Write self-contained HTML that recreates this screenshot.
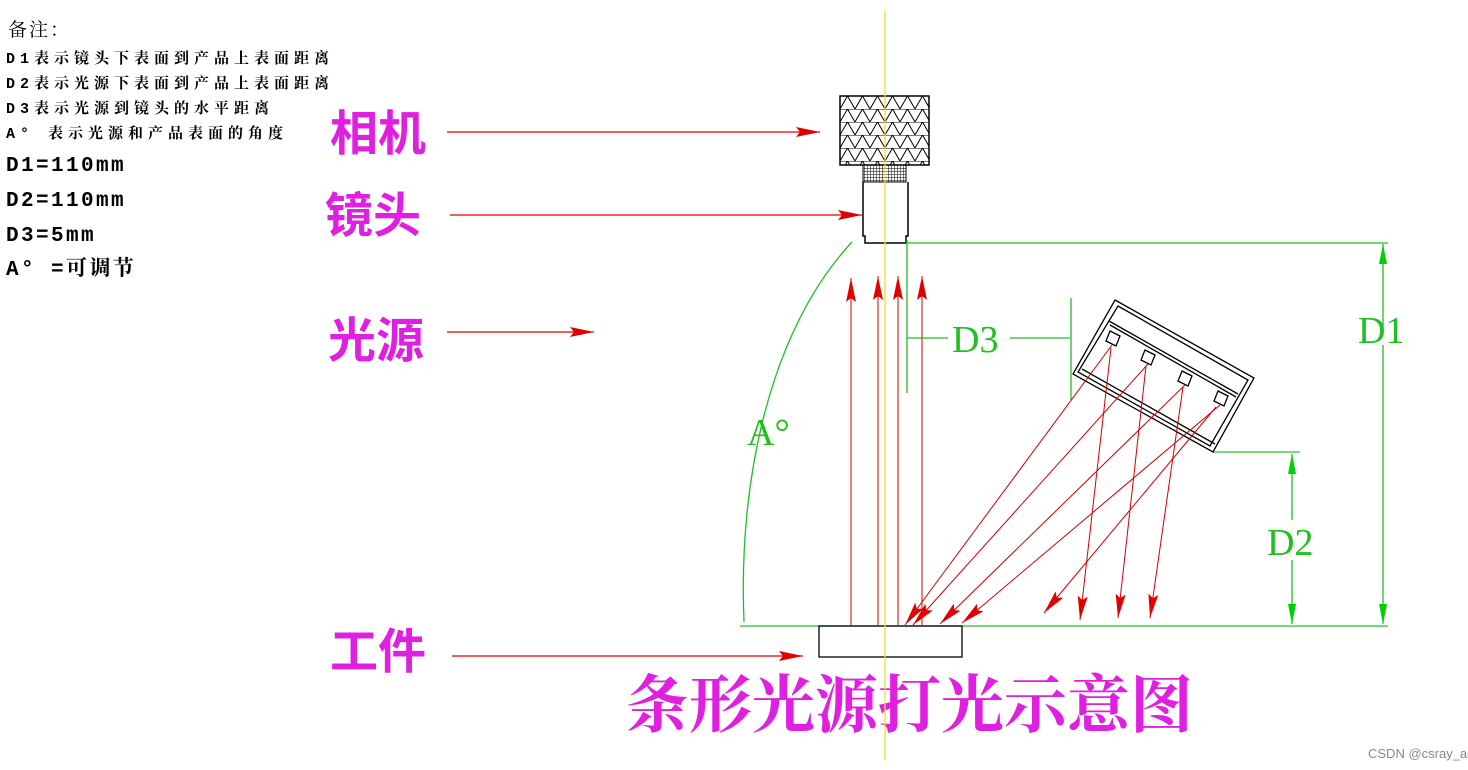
<!DOCTYPE html>
<html><head><meta charset="utf-8"><style>
body{margin:0;background:#fff}
svg{display:block}
.t{font-family:"Liberation Serif","Noto Serif CJK SC",serif}
.m{font-family:"Liberation Mono","Noto Serif CJK SC",monospace}
.s{font-family:"Liberation Sans","Noto Sans CJK SC",sans-serif}
</style></head><body>
<svg width="1468" height="770" viewBox="0 0 1468 770" xmlns="http://www.w3.org/2000/svg">
<defs>
<marker id="a" viewBox="0 0 24 10" refX="24" refY="5" markerWidth="24" markerHeight="10" markerUnits="userSpaceOnUse" orient="auto"><path d="M0,0 L24,5 L0,10 L4,5z" fill="#e00000"/></marker>
<marker id="g" viewBox="0 0 20 8" refX="20" refY="4" markerWidth="20" markerHeight="8" markerUnits="userSpaceOnUse" orient="auto"><path d="M0,0 L20,4 L0,8 z" fill="#00d000"/></marker>
<pattern id="tri" width="15" height="13" patternUnits="userSpaceOnUse" x="840" y="96"><path d="M0,13 L7.5,0 L15,13 M0,0 L15,0" stroke="#000" stroke-width="1" fill="none"/></pattern>
<pattern id="grid" width="3" height="3" patternUnits="userSpaceOnUse"><path d="M0,0 H3 M0,0 V3" stroke="#000" stroke-width="1"/></pattern>
</defs>
<!-- notes -->
<g class="m" fill="#000">
<text x="8" y="36" font-size="19" letter-spacing="2">备注：</text>
<g font-size="15" font-weight="bold" letter-spacing="5">
<text x="6" y="63">D1表示镜头下表面到产品上表面距离</text>
<text x="6" y="88">D2表示光源下表面到产品上表面距离</text>
<text x="6" y="113">D3表示光源到镜头的水平距离</text>
<text x="6" y="138">A° 表示光源和产品表面的角度</text>
</g>
<g font-size="21" font-weight="bold" letter-spacing="2.4">
<text x="6" y="171">D1=110mm</text>
<text x="6" y="206">D2=110mm</text>
<text x="6" y="241">D3=5mm</text>
<text x="6" y="275">A° =可调节</text>
</g>
</g>
<!-- left labels -->
<g class="s" fill="#e020e0" font-size="48" font-weight="bold">
<text x="330" y="150">相机</text>
<text x="325" y="232">镜头</text>
<text x="328" y="357">光源</text>
<text x="330" y="668">工件</text>
</g>
<text x="626" y="727" class="t" fill="#e020e0" font-size="63" font-weight="bold">条形光源打光示意图</text>
<g stroke="#e00000" stroke-width="1.2" fill="none">
<line x1="447" y1="132" x2="820" y2="132" marker-end="url(#a)"/>
<line x1="450" y1="215" x2="862" y2="215" marker-end="url(#a)"/>
<line x1="447" y1="332" x2="594" y2="332" marker-end="url(#a)"/>
<line x1="452" y1="656" x2="803" y2="656" marker-end="url(#a)"/>
</g>
<!-- camera -->
<rect x="840" y="96" width="89" height="69" fill="url(#tri)" stroke="#000" stroke-width="1.5"/>
<rect x="863" y="165" width="43" height="17" fill="url(#grid)" stroke="#000"/>
<path d="M863,182 V236 H865 V243 H906 V236 H908 V182" fill="none" stroke="#000" stroke-width="1.5"/>
<!-- green lines -->
<g stroke="#20c020" stroke-width="1.3" fill="none">
<line x1="906" y1="243" x2="1388" y2="243"/>
<line x1="740" y1="626" x2="1388" y2="626"/>
<line x1="907" y1="240" x2="907" y2="393"/>
<line x1="907" y1="338" x2="948" y2="338"/>
<line x1="1010" y1="338" x2="1070" y2="338"/>
<line x1="1071" y1="298" x2="1071" y2="400"/>
<line x1="1213" y1="452" x2="1300" y2="452"/>
<path d="M744,622 C738,480 770,330 852,242"/>
<line x1="1383" y1="330" x2="1383" y2="244" marker-end="url(#g)"/>
<line x1="1383" y1="345" x2="1383" y2="624" marker-end="url(#g)"/>
<line x1="1292" y1="520" x2="1292" y2="454" marker-end="url(#g)"/>
<line x1="1292" y1="560" x2="1292" y2="624" marker-end="url(#g)"/>
</g>
<g class="t" fill="#20c020" font-size="38">
<text x="952" y="352">D3</text>
<text x="1358" y="343">D1</text>
<text x="1267" y="555">D2</text>
<text x="747" y="445">A°</text>
</g>
<!-- light box -->
<g stroke="#000" stroke-width="1.3" fill="none">
<polygon points="1115,300 1254,378 1213,452 1073,374"/>
<polygon points="1118,306 1248,380 1210,446 1078,372"/>
<line x1="1109" y1="321" x2="1238" y2="394"/>
<line x1="1110" y1="325" x2="1236" y2="397"/>
<line x1="1082" y1="369" x2="1215" y2="444"/>
<path d="M1110,331 l10,5 l-4,10 l-10,-5z M1145,350 l10,5 l-4,10 l-10,-5z M1182,371 l10,5 l-4,10 l-10,-5z M1218,391 l10,5 l-4,10 l-10,-5z"/>
</g>
<!-- workpiece -->
<rect x="819" y="626" width="143" height="31" fill="none" stroke="#000" stroke-width="1.3"/>
<!-- red rays -->
<g stroke="#d00000" stroke-width="1" fill="none">
<line x1="851" y1="626" x2="851" y2="278" marker-end="url(#a)"/>
<line x1="878" y1="626" x2="878" y2="276" marker-end="url(#a)"/>
<line x1="898" y1="626" x2="898" y2="276" marker-end="url(#a)"/>
<line x1="922" y1="626" x2="922" y2="276" marker-end="url(#a)"/>
<line x1="1112" y1="345" x2="905" y2="625" marker-end="url(#a)"/>
<line x1="1148" y1="364" x2="913" y2="625" marker-end="url(#a)"/>
<line x1="1185" y1="385" x2="940" y2="624" marker-end="url(#a)"/>
<line x1="1220" y1="405" x2="962" y2="623" marker-end="url(#a)"/>
<line x1="1111" y1="348" x2="1080" y2="620" marker-end="url(#a)"/>
<line x1="1146" y1="366" x2="1118" y2="618" marker-end="url(#a)"/>
<line x1="1183" y1="387" x2="1150" y2="618" marker-end="url(#a)"/>
<line x1="1216" y1="407" x2="1044" y2="613" marker-end="url(#a)"/>
</g>
<!-- yellow center line -->
<line x1="885" y1="10" x2="885" y2="760" stroke="#f0e020" stroke-width="1.3"/>
<text x="1368" y="758" font-family="Liberation Sans,sans-serif" font-size="13" fill="#888">CSDN @csray_aoi</text>
</svg>
</body></html>
